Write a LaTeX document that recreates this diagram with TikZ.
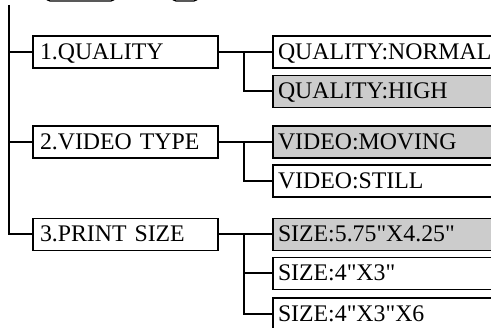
\documentclass[tikz,border=0pt]{standalone}
\usepackage{fontspec}
\setmainfont{Liberation Serif}[Ligatures=TeXOff]
\definecolor{selgray}{RGB}{204,204,204}
\begin{document}
\begin{tikzpicture}[x=1pt,y=-1pt,
  every node/.style={font=\fontsize{23.8}{27}\selectfont},
  leftbox/.style={draw, line width=1.2pt, minimum height=32pt, text width=171pt, inner xsep=7pt, inner ysep=0pt, align=left, text height=16pt, text depth=1pt},
  rightbox/.style={draw, line width=1.2pt, minimum height=32pt, text width=228pt, inner xsep=5pt, inner ysep=0pt, align=left, text height=16pt, text depth=1pt},
  sel/.style={fill=selgray},
  topbox/.style={draw, line width=1.2pt, rounded corners=4pt, inner sep=0pt},
  conn/.style={line width=2pt}
]
\useasboundingbox (0,0) rectangle (491,328);
\clip (0,0) rectangle (491,328);
% partial top buttons
\node[topbox, minimum width=69pt, minimum height=30pt] (top1) at (80.5,-14) {};
\node[topbox, minimum width=26pt, minimum height=30pt] (top2) at (185,-14) {};
% first level
\node[leftbox] (q) at (125.5,52) {1.QUALITY};
\node[leftbox] (v) at (125.5,142) {2.VIDEO TYPE};
\node[leftbox] (p) at (125.5,234.5) {3.PRINT SIZE};
% second level
\node[rightbox] (qn) at (392,52) {QUALITY:NORMAL};
\node[rightbox, sel] (qh) at (392,91.5) {QUALITY:HIGH};
\node[rightbox, sel] (vm) at (392,142) {VIDEO:MOVING};
\node[rightbox] (vs) at (392,181) {VIDEO:STILL};
\node[rightbox, sel] (s1) at (392,234.5) {SIZE:5.75"X4.25"};
\node[rightbox] (s2) at (392,273.5) {SIZE:4"X3"};
\node[rightbox] (s3) at (392,314) {SIZE:4"X3"X6};
% spine
\coordinate (spine) at (9,5);
\draw[conn] (spine) |- (p.west);
\draw[conn] (spine |- q.west) -- (q.west);
\draw[conn] (spine |- v.west) -- (v.west);
% branches
\draw[conn] (q.east) -- (qn.west);
\draw[conn] (q.east) ++(25,0) |- (qh.west);
\draw[conn] (v.east) -- (vm.west);
\draw[conn] (v.east) ++(25,0) |- (vs.west);
\draw[conn] (p.east) -- (s1.west);
\draw[conn] (p.east) ++(25,0) |- (s3.west);
\draw[conn] (p.east) ++(25,0) |- (s2.west);
\end{tikzpicture}
\end{document}
